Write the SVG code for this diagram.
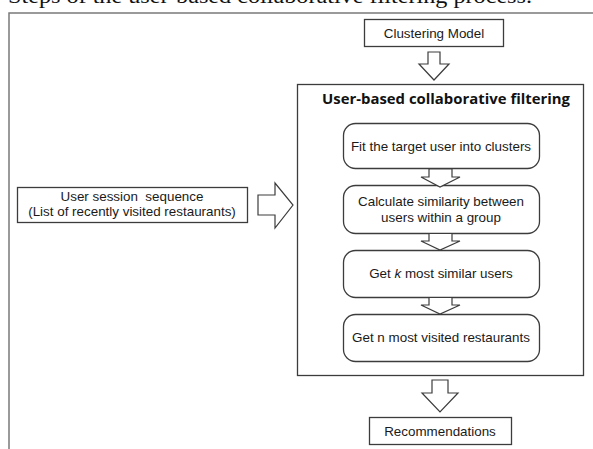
<svg xmlns="http://www.w3.org/2000/svg" width="593" height="449" viewBox="0 0 593 449">
<style>
.box{fill:#fff;stroke:#3c3c3c;stroke-width:1.3}
.rbox{fill:#fff;stroke:#3c3c3c;stroke-width:1.3}
.arr{fill:#fff;stroke:#3c3c3c;stroke-width:1.2;stroke-linejoin:miter}
.t{font-family:"Liberation Sans",Arial,sans-serif;font-size:13.4px;fill:#1a1a1a;text-anchor:middle}
.title{font-family:"Open Sans","DejaVu Sans",sans-serif;font-weight:bold;font-size:13.5px;fill:#111;text-anchor:middle}
.cap{font-family:"Liberation Serif","Times New Roman",serif;font-size:20px;fill:#111}
.frame{fill:none;stroke:#7a7a7a;stroke-width:1.5}
</style>
<rect width="593" height="449" fill="#fff"/>
<text class="cap" x="8" y="3" textLength="524" lengthAdjust="spacingAndGlyphs">Steps of the user-based collaborative filtering process.</text>
<path class="frame" d="M9,449 V13 H593"/>

<g id="clustering-model">
<rect class="box" x="364.5" y="19.5" width="139" height="27"/>
<text class="t" x="434" y="37.5">Clustering Model</text>
</g>

<g id="cf">
<rect class="box" x="297.5" y="84.5" width="286" height="291"/>
<text class="title" x="446" y="104" textLength="248" lengthAdjust="spacingAndGlyphs">User-based collaborative filtering</text>
</g>

<g id="fit">
<rect class="rbox" x="343.5" y="123.5" width="196" height="45" rx="12"/>
<text class="t" x="441" y="150.5">Fit the target user into clusters</text>
</g>

<g id="calc">
<rect class="rbox" x="343.5" y="185.5" width="196" height="48" rx="12"/>
<text class="t" x="441" y="206">Calculate similarity between</text>
<text class="t" x="441" y="222">users within a group</text>
</g>

<g id="getk">
<rect class="rbox" x="343.5" y="250.5" width="196" height="47" rx="12"/>
<text class="t" x="441" y="278">Get <tspan font-style="italic">k</tspan> most similar users</text>
</g>

<g id="getn">
<rect class="rbox" x="343.5" y="314.5" width="196" height="47" rx="12"/>
<text class="t" x="441" y="342">Get n most visited restaurants</text>
</g>

<g id="session">
<rect class="box" x="17.5" y="187.5" width="230" height="35"/>
<text class="t" x="132" y="201">User session&#160; sequence</text>
<text class="t" x="132" y="216">(List of recently visited restaurants)</text>
</g>

<g id="recommendations">
<rect class="box" x="369.5" y="417.5" width="142" height="27"/>
<text class="t" x="440" y="436">Recommendations</text>
</g>

<g id="connectors">
<path class="arr" d="M428,52 H440 V64 H449 L434,80 L419,64 H428 Z"/>
<path class="arr" d="M258,195 H275 V183 L293,205 L275,228 V215 H258 Z"/>
<path class="arr" d="M429,169 H452 V177 H460 L440,187 L421,177 H429 Z"/>
<path class="arr" d="M429,233.5 H452 V241 H460 L440,250 L421,241 H429 Z"/>
<path class="arr" d="M429,297.5 H452 V305 H460 L440,314 L421,305 H429 Z"/>
<path class="arr" d="M432,380 H448 V393 H458 L440,412 L422,393 H432 Z"/>
</g>
</svg>
